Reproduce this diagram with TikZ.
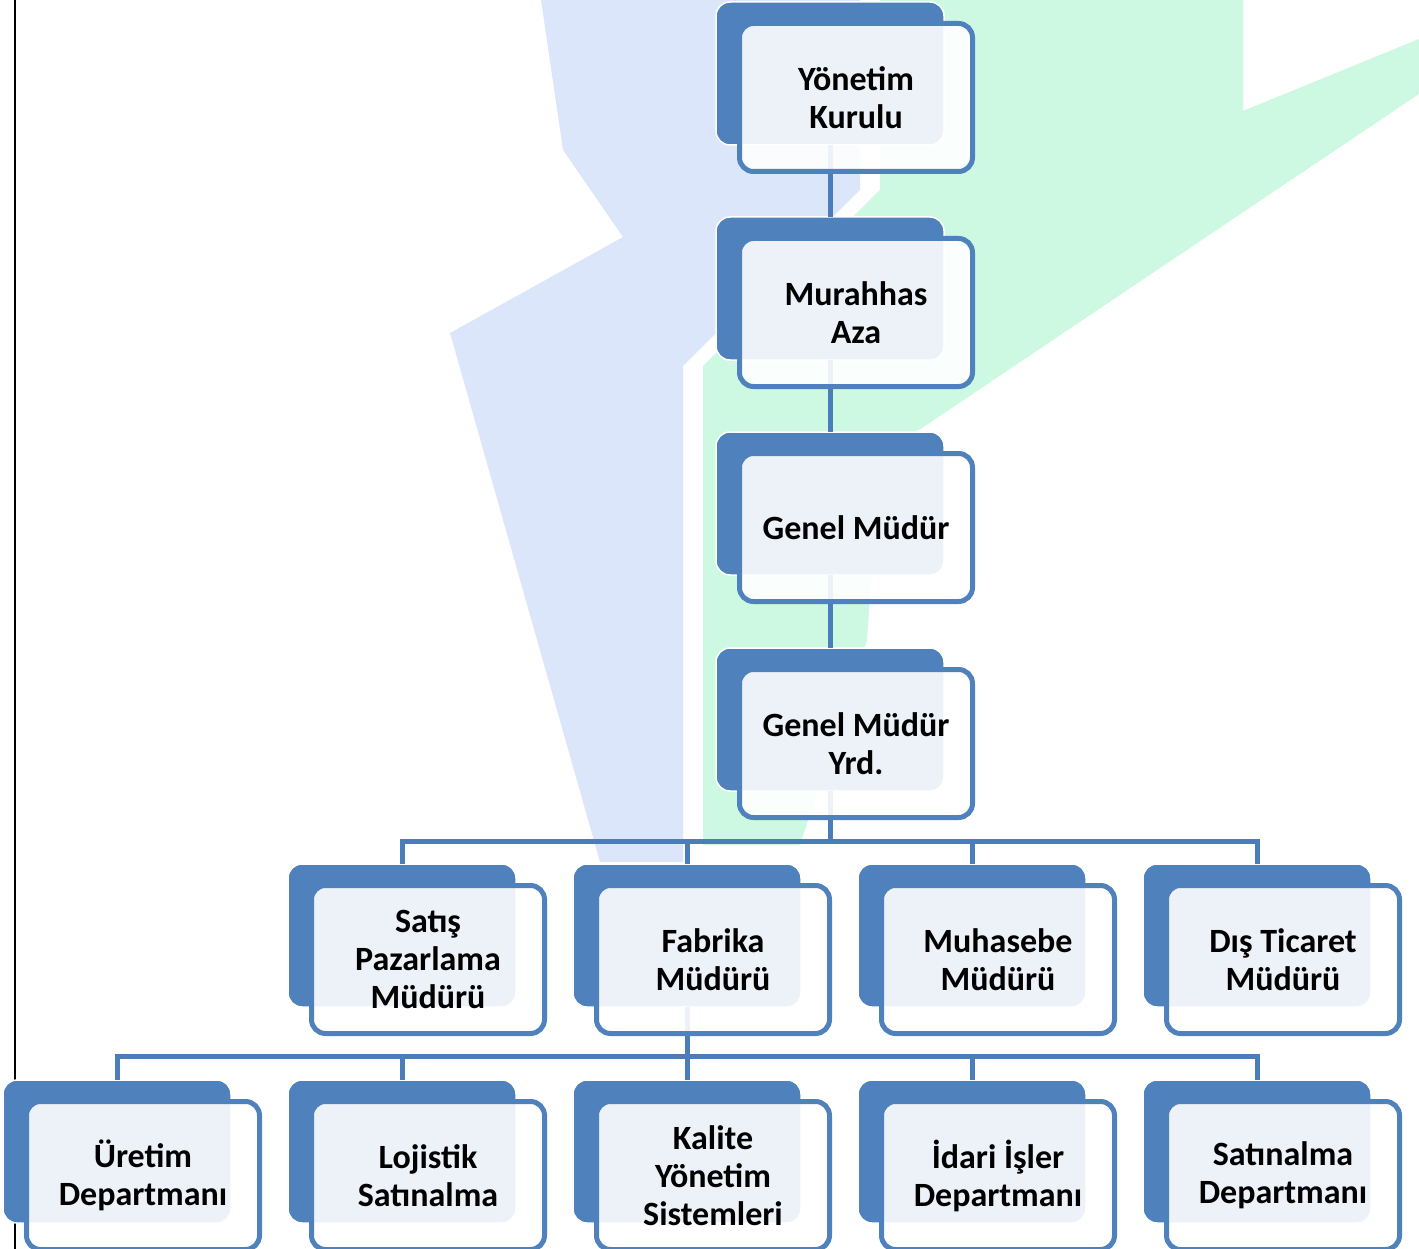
\documentclass[tikz,border=0pt]{standalone}
\usepackage{fontspec}
\setmainfont{Carlito}
\definecolor{boxblue}{HTML}{4F81BD}
\definecolor{linkblue}{HTML}{4A7DBA}
\definecolor{markblue}{HTML}{DCE6FA}
\definecolor{markgreen}{HTML}{CDF8E2}
\tikzset{
  back/.style={fill=boxblue, draw=white, line width=1.5pt, rounded corners=14pt,
    minimum width=228pt, minimum height=143pt, inner sep=0pt, outer sep=0pt, anchor=north west},
  front/.style={draw=boxblue, line width=5pt, fill=white, fill opacity=0.9, text opacity=1,
    rounded corners=14pt, minimum width=233pt, minimum height=148pt, inner sep=0pt, outer sep=0pt,
    anchor=north west, align=center, font=\bfseries\fontsize{34}{38}\selectfont},
  link/.style={draw=linkblue, line width=5pt}
}
\begin{document}
\begin{tikzpicture}[x=1pt,y=-1pt]
    \useasboundingbox (0,0) rectangle (1419,1249);
    \fill[markblue] (541,0) -- (563,150) -- (623,237) -- (450,333) -- (600,862) -- (683,862)
      -- (683,366) -- (860,190) -- (860,0) -- cycle;
    \fill[markgreen] (880,0) -- (1243,0) -- (1243,111) -- (1419,39) -- (1419,94) -- (922,428)
      -- (880,450) -- (867,640) -- (800,845) -- (703,845) -- (703,366) -- (880,190) -- cycle;
    \draw[line width=2pt] (15,0) -- (15,1249);
    \foreach \n/\x/\y in {yk/716/2, ma/716/217, gm/716/432, gmy/716/648,
        spm/288/864, fm/573/864, mm/858/864, dtm/1143/864,
        ud/3/1080, ls/288/1080, kys/573/1080, iid/858/1080, sd/1143/1080}
      \node[back] (\n) at (\x,\y) {};
    \coordinate (bus1) at (0,841);
    \coordinate (bus2) at (0,1056);
    \draw[link] (yk.south) -- (ma.north);
    \draw[link] (ma.south) -- (gm.north);
    \draw[link] (gm.south) -- (gmy.north);
    \foreach \c in {spm,fm,mm,dtm}
      \draw[link] (gmy.south) -- (gmy.south |- bus1) -| (\c.north);
    \foreach \c in {ud,ls,kys,iid,sd}
      \draw[link] (fm.south) -- (fm.south |- bus2) -| (\c.north);
    \foreach \n/\t in {yk/{Yönetim\\Kurulu}, ma/{Murahhas\\Aza}, gm/{Genel Müdür},
        gmy/{Genel Müdür\\Yrd.}, spm/{Satış\\Pazarlama\\Müdürü}, fm/{Fabrika\\Müdürü},
        mm/{Muhasebe\\Müdürü}, dtm/{Dış Ticaret\\Müdürü}, ud/{Üretim\\Departmanı},
        ls/{Lojistik\\Satınalma}, kys/{Kalite\\Yönetim\\Sistemleri},
        iid/{İdari İşler\\Departmanı}, sd/{Satınalma\\Departmanı}}
      \node[front] (\n-t) at ([xshift=23.5pt,yshift=-21.5pt]\n.north west) {\t};
\end{tikzpicture}
\end{document}
